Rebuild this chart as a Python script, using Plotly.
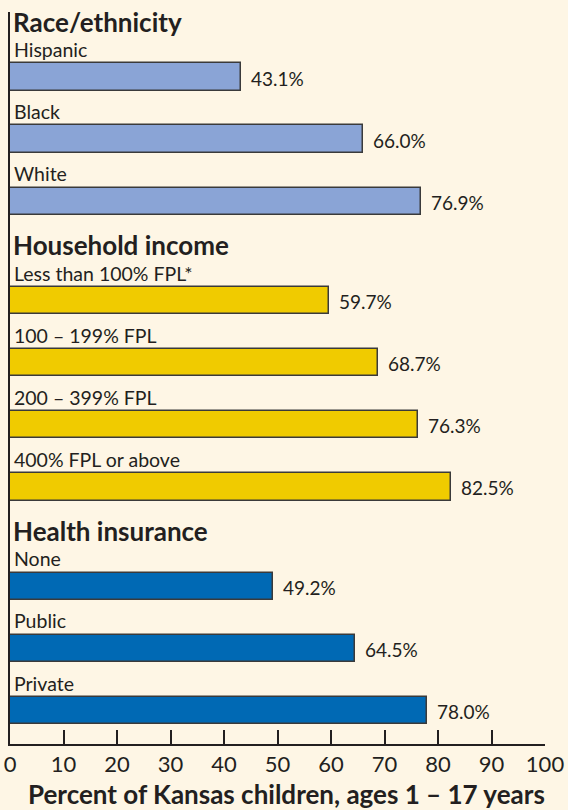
import plotly.graph_objects as go

# ---- data ----
group_titles = ["Race/ethnicity", "Household income", "Health insurance"]

race_labels = ["Hispanic", "Black", "White"]
race_values = [43.1, 66.0, 76.9]

income_labels = ["Less than 100% FPL*", "100 – 199% FPL", "200 – 399% FPL", "400% FPL or above"]
income_values = [59.7, 68.7, 76.3, 82.5]

insurance_labels = ["None", "Public", "Private"]
insurance_values = [49.2, 64.5, 78.0]

x_ticks = [0, 10, 20, 30, 40, 50, 60, 70, 80, 90, 100]
x_title = "Percent of Kansas children, ages 1 – 17 years"

# ---- styling ----
BG = "#FEF6E5"
TXT = "#231F20"
OUTLINE = "#3A3A3A"
group_colors = ["#8AA4D6", "#F0CB00", "#0069B4"]
FONT = "Lato"
GROUP_GAP = 0.6
BAR_W = 0.44

groups = [
    (group_titles[0], race_labels, race_values, group_colors[0]),
    (group_titles[1], income_labels, income_values, group_colors[1]),
    (group_titles[2], insurance_labels, insurance_values, group_colors[2]),
]

fig = go.Figure()
annotations = []
idx = 0
for gi, (title, labels, values, color) in enumerate(groups):
    positions = [idx + i + gi * GROUP_GAP for i in range(len(values))]
    idx += len(values)
    fig.add_trace(go.Bar(
        x=values, y=positions, orientation="h", width=BAR_W,
        marker=dict(color=color, line=dict(color=OUTLINE, width=1.5)),
        hoverinfo="skip", showlegend=False,
    ))
    annotations.append(dict(
        x=0, y=positions[0] - 0.89, xref="x", yref="y", text="<b>" + title + "</b>",
        showarrow=False, xanchor="left", yanchor="middle", xshift=1,
        font=dict(family=FONT, size=26, color=TXT),
    ))
    for p, lab, v in zip(positions, labels, values):
        annotations.append(dict(
            x=0, y=p - 0.44, xref="x", yref="y", text=lab, showarrow=False,
            xanchor="left", yanchor="middle", xshift=2,
            font=dict(family=FONT, size=19.5, color=TXT),
        ))
        annotations.append(dict(
            x=v, y=p, xref="x", yref="y", text=f"{v:.1f}%", showarrow=False,
            xanchor="left", yanchor="middle", xshift=8, yshift=-1,
            font=dict(family=FONT, size=19, color=TXT),
        ))

annotations.append(dict(
    x=0.517, y=-0.068, xref="paper", yref="paper", text="<b>" + x_title + "</b>",
    showarrow=False, xanchor="center", yanchor="middle",
    font=dict(family=FONT, size=26, color=TXT),
))

fig.update_layout(
    width=568, height=810,
    margin=dict(l=10, r=23, t=12, b=66, autoexpand=False),
    paper_bgcolor=BG, plot_bgcolor=BG,
    annotations=annotations,
    bargap=0,
    xaxis=dict(
        range=[0, 100], tickvals=x_ticks, ticktext=[str(t) for t in x_ticks],
        showgrid=False, zeroline=False, showline=True, linecolor=TXT, linewidth=2,
        ticks="inside", ticklen=14, tickwidth=1.5, tickcolor=TXT,
        tickfont=dict(family=FONT, size=22, color=TXT), automargin=False,
    ),
    yaxis=dict(
        range=[10.742, -1.048], showgrid=False, zeroline=False, showticklabels=False,
        showline=True, linecolor=TXT, linewidth=2, ticks="", automargin=False,
    ),
)

fig.write_html(
    "out.html",
    config={"displayModeBar": False},
    post_script="document.body.style.margin='0';document.body.style.background='" + BG + "';document.body.style.overflow='hidden';",
)
